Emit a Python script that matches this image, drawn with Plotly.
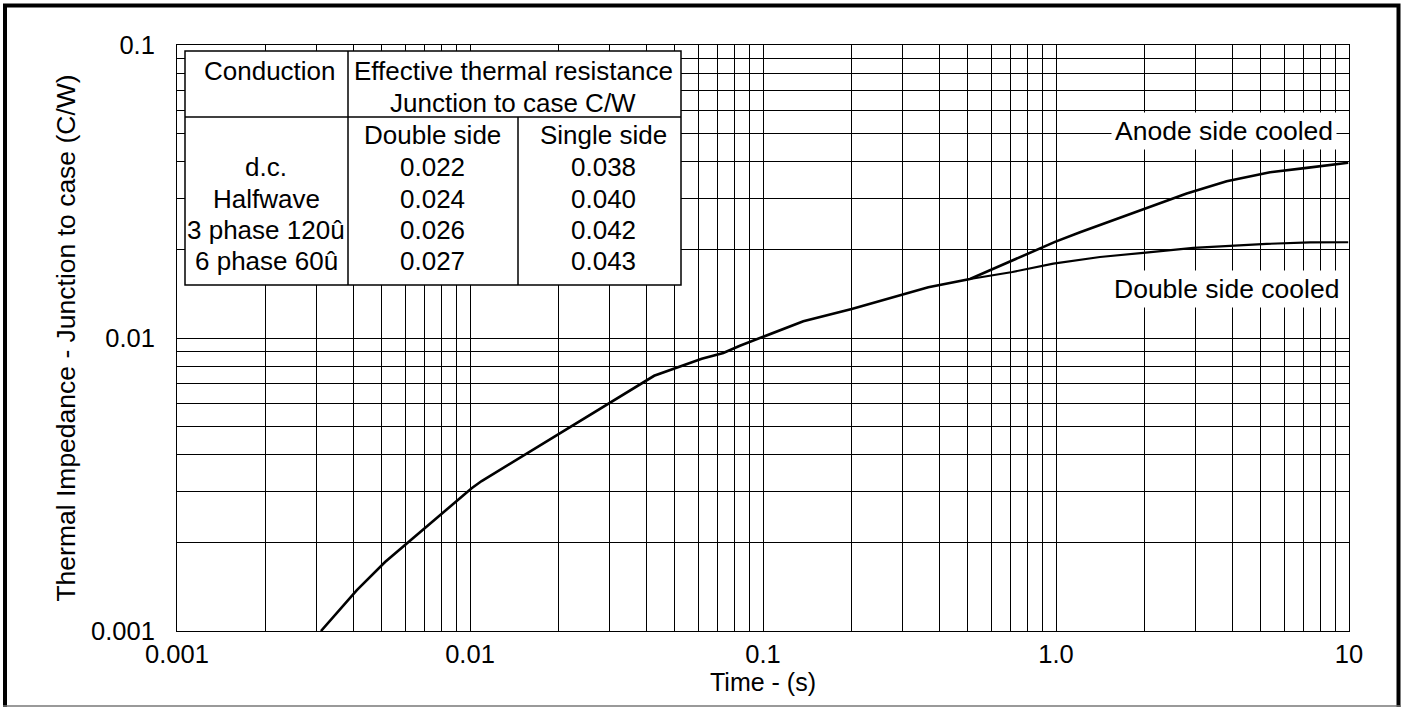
import plotly.graph_objects as go

# ---------------- data ----------------
# common part of the transient thermal impedance curve (s, C/W)
t_common = [0.0031, 0.00411, 0.00513, 0.00616, 0.00721, 0.00833, 0.01013, 0.01096, 0.01481,
            0.0425, 0.0618, 0.0732, 0.0834, 0.099, 0.1373, 0.2008, 0.3093, 0.3666, 0.5087]
z_common = [0.001, 0.00138, 0.00172, 0.00201, 0.0023, 0.00259, 0.00307, 0.00325, 0.00391,
            0.00743, 0.00849, 0.00889, 0.00941, 0.01005, 0.0114, 0.01257, 0.01417, 0.01489, 0.0159]
# anode side cooled branch
t_anode = [0.619, 0.826, 0.992, 1.208, 2.04, 2.793, 3.824, 5.375, 7.17, 9.94]
z_anode = [0.01735, 0.01967, 0.02128, 0.02295, 0.0278, 0.03112, 0.03428, 0.0368, 0.03808, 0.03962]
# double side cooled branch
t_double = [0.644, 0.71, 0.979, 1.413, 1.986, 2.942, 5.236, 7.36, 9.94]
z_double = [0.01654, 0.0168, 0.01794, 0.01891, 0.01952, 0.0203, 0.02095, 0.0212, 0.02123]

# table
conduction = ["d.c.", "Halfwave", "3 phase 120û", "6 phase 60û"]
double_side = ["0.022", "0.024", "0.026", "0.027"]
single_side = ["0.038", "0.040", "0.042", "0.043"]

# axis ticks
x_decades = [0.001, 0.01, 0.1, 1.0]
x_labels = {0.001: "0.001", 0.01: "0.01", 0.1: "0.1", 1.0: "1.0", 10.0: "10"}
y_decades = [0.001, 0.01]
y_labels = {0.001: "0.001", 0.01: "0.01", 0.1: "0.1"}

# ---------------- layout helpers ----------------
W, H = 1401, 707
L, R, T, B = 177, 1349, 45, 631
FONT = "Liberation Sans, Arial, sans-serif"


def px(x):
    return (x - L) / (R - L)


def py(y):
    return (B - y) / (B - T)


def grid_vals(decades, labels):
    vals, text = [], []
    for d in decades:
        for k in range(1, 10):
            v = round(k * d, 6)
            vals.append(v)
            text.append(labels.get(v, ""))
    return vals, text


xv, xt = grid_vals(x_decades, x_labels)
xv.append(10.0)
xt.append(x_labels[10.0])
yv, yt = grid_vals(y_decades, y_labels)
yv.append(0.1)
yt.append(y_labels[0.1])

fig = go.Figure()
fig.add_trace(go.Scatter(x=t_common + t_anode, y=z_common + z_anode, mode="lines",
                         line=dict(color="black", width=2.6), hoverinfo="skip"))
fig.add_trace(go.Scatter(x=[t_common[-1]] + t_double, y=[z_common[-1]] + z_double, mode="lines",
                         line=dict(color="black", width=2.1), hoverinfo="skip"))

axis_common = dict(type="log", showgrid=True, gridcolor="black", gridwidth=1,
                   showline=True, mirror=True, linecolor="black", linewidth=1,
                   ticks="", zeroline=False, tickfont=dict(family=FONT, size=25.5, color="black"))

fig.update_layout(
    width=W, height=H,
    margin=dict(l=L, r=W - R, t=T, b=H - B),
    paper_bgcolor="white", plot_bgcolor="white",
    showlegend=False,
    font=dict(family=FONT, color="black"),
    xaxis=dict(axis_common, range=[-3, 1], tickvals=xv, ticktext=xt, tickangle=0,
               title=dict(text="Time - (s)", font=dict(family=FONT, size=25, color="black"), standoff=0)),
    yaxis=dict(axis_common, range=[-3, -1], tickvals=yv, ticktext=yt, ticklabelstandoff=16,
               title=dict(text="Thermal Impedance - Junction to case (C/W)",
                          font=dict(family=FONT, size=26.5, color="black"), standoff=7)),
)

shapes = []
# table box
shapes.append(dict(type="rect", xref="paper", yref="paper", x0=px(185), x1=px(681), y0=py(51), y1=py(285),
                   fillcolor="white", line=dict(color="black", width=1.5), layer="above"))
shapes.append(dict(type="line", xref="paper", yref="paper", x0=px(185), x1=px(681), y0=py(117), y1=py(117),
                   line=dict(color="black", width=1.5), layer="above"))
shapes.append(dict(type="line", xref="paper", yref="paper", x0=px(348), x1=px(348), y0=py(51), y1=py(285),
                   line=dict(color="black", width=1.5), layer="above"))
shapes.append(dict(type="line", xref="paper", yref="paper", x0=px(518), x1=px(518), y0=py(117), y1=py(285),
                   line=dict(color="black", width=1.5), layer="above"))
# outer frame (left, top, right thick; bottom thin grey)
frame_path = "M {a},{b} L {a},{c} L {d},{c} L {d},{b}".format(
    a=px(5), b=py(707), c=py(5.5), d=px(1398.5))
shapes.append(dict(type="path", xref="paper", yref="paper", path=frame_path,
                   line=dict(color="black", width=4)))
shapes.append(dict(type="line", xref="paper", yref="paper", x0=px(3), x1=px(1401), y0=py(706), y1=py(706),
                   line=dict(color="#777777", width=1.5)))
fig.update_layout(shapes=shapes)

ann = []


def txt(x, y, s, size=26, bg=None, pad=0):
    d = dict(xref="paper", yref="paper", x=px(x), y=py(y), text=s, showarrow=False,
             xanchor="center", yanchor="middle", font=dict(family=FONT, size=size, color="black"))
    if bg:
        d.update(bgcolor=bg, borderpad=pad)
    ann.append(d)


txt(270, 71, "Conduction")
txt(513, 71, "Effective thermal resistance")
txt(513, 103, "Junction to case C/W")
txt(432, 135, "Double side")
txt(603, 135, "Single side")
row_y = [167, 199, 230, 261]
for i, yy in enumerate(row_y):
    txt(266, yy, conduction[i])
    txt(432, yy, double_side[i])
    txt(603, yy, single_side[i])

txt(1224, 131, "Anode side cooled", size=26.5, bg="white", pad=3)
txt(1226, 289, "Double side cooled", size=26.5, bg="white", pad=3)
fig.update_layout(annotations=ann)

fig.write_html("out.html", config={"displayModeBar": False},
               post_script="document.body.style.margin='0px';document.body.style.overflow='hidden';")
